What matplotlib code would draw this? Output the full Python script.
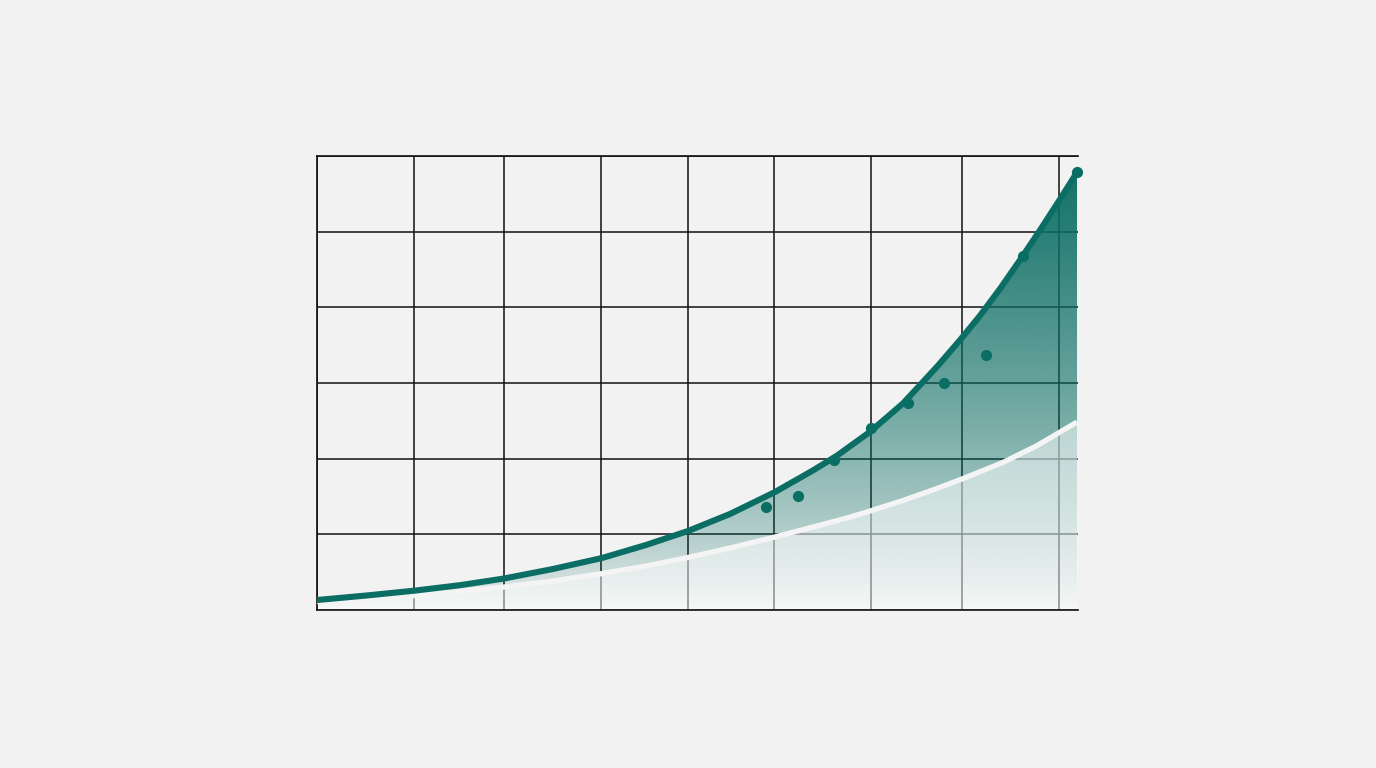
import numpy as np
import matplotlib
matplotlib.use("Agg")
import matplotlib.pyplot as plt
from matplotlib.colors import to_rgb

# ---- data ----
grid_x = [0, 12.7, 24.6, 37.3, 48.8, 60.0, 72.8, 84.8, 97.5]
grid_y = [0, 1, 2, 3, 4, 5, 6]

main_x = [0.00, 6.44, 12.75, 18.79, 24.57, 31.01, 37.45, 43.23, 48.75, 54.27,
          60.18, 65.18, 68.33, 72.67, 77.00, 81.47, 84.49, 87.12, 89.75, 92.38,
          95.01, 97.63, 99.87]
main_y = [0.132, 0.191, 0.255, 0.328, 0.416, 0.542, 0.687, 0.859, 1.044, 1.269,
          1.559, 1.845, 2.040, 2.355, 2.730, 3.215, 3.567, 3.890, 4.245, 4.625,
          5.020, 5.427, 5.785]

base_x = [0.00, 6.44, 12.75, 16.16, 24.57, 31.01, 37.45, 43.23, 48.75, 54.27,
          60.18, 65.18, 69.65, 72.67, 77.00, 81.47, 84.76, 90.14, 94.61, 99.87]
base_y = [0.112, 0.150, 0.190, 0.218, 0.304, 0.383, 0.482, 0.581, 0.694, 0.819,
          0.965, 1.097, 1.216, 1.308, 1.447, 1.606, 1.731, 1.950, 2.172, 2.484]

pts_x = [58.96, 63.21, 67.94, 72.76, 77.62, 82.39, 87.91, 92.77, 99.87]
pts_y = [1.357, 1.507, 1.982, 2.401, 2.732, 3.004, 3.374, 4.678, 5.788]

TEAL = "#0b6e64"
BG = "#f2f2f2"

fig = plt.figure(figsize=(13.76, 7.68), dpi=100, facecolor=BG)
ax = fig.add_axes([317/1376, 1 - 610/768, (1078-317)/1376, (610-156)/768])
ax.set_facecolor(BG)
ax.set_xlim(0, 100)
ax.set_ylim(0, 6)

ax.set_xticks(grid_x)
ax.set_yticks(grid_y)
ax.tick_params(length=0, labelbottom=False, labelleft=False)
ax.grid(True, color="#111111", linewidth=1.1, zorder=0)
ax.set_axisbelow(True)
for s in ["left", "top", "bottom"]:
    ax.spines[s].set_color("#111111")
    ax.spines[s].set_linewidth(1.2)
ax.spines["right"].set_visible(False)

# gradient fill under the main curve
poly = ax.fill_between(main_x, main_y, 0, color="none", linewidth=0)
path = poly.get_paths()[0]
ny = 300
yy = np.linspace(0, 6, ny)
alpha = 0.97 * np.clip(yy / 5.8, 0, 1) ** 0.72
rgba = np.zeros((ny, 2, 4))
rgba[..., :3] = to_rgb(TEAL)
rgba[..., 3] = alpha[:, None]
im = ax.imshow(rgba, extent=[0, 100, 0, 6], origin="lower", aspect="auto",
               interpolation="bilinear", zorder=1)
im.set_clip_path(path, transform=ax.transData)

# white veil below the second curve
ax.fill_between(base_x, base_y, 0, color="white", alpha=0.5, linewidth=0, zorder=2)

ax.plot(base_x, base_y, color="#f4f4f4", linewidth=3.8, solid_capstyle="butt",
        solid_joinstyle="round", zorder=3)
ax.plot(main_x, main_y, color=TEAL, linewidth=4.4, solid_capstyle="round",
        solid_joinstyle="round", zorder=4)
ax.scatter(pts_x, pts_y, s=65, color=TEAL, zorder=5, linewidths=0, clip_on=False)

fig.savefig("out.png", dpi=100, facecolor=BG)
